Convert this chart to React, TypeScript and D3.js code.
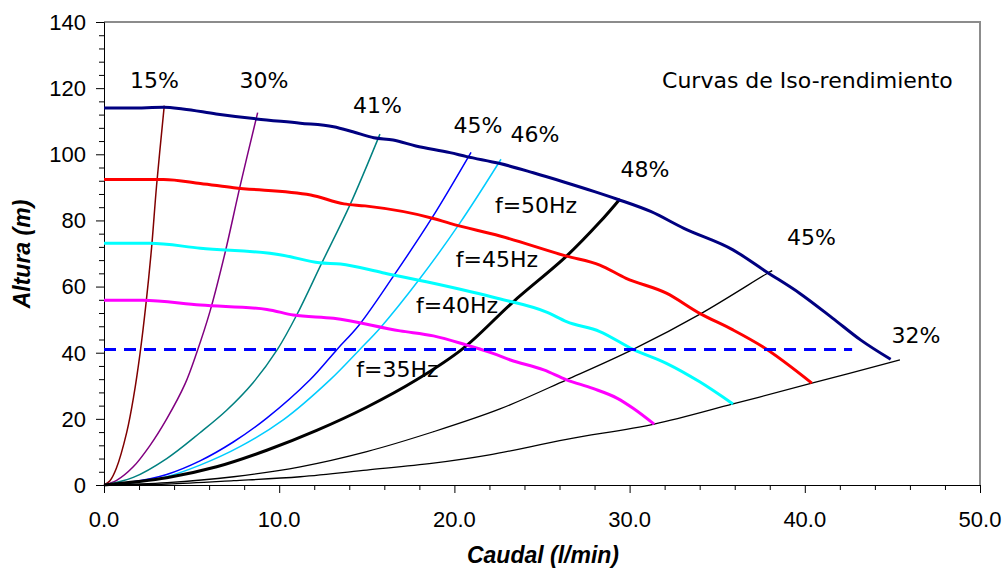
import React, {useRef, useEffect} from 'react';
import * as d3 from 'd3';

type Pt = [number, number];

// H-Q curves of the pump at each frequency (Caudal l/min, Altura m)
const curve50Hz: Pt[] = [[0, 114.0], [1.5, 114.0], [3.4, 114.2], [4.5, 113.7], [6.4, 112.2], [8.7, 110.7], [11.2, 109.4], [13.1, 108.3], [14.2, 106.8], [15.4, 105.0], [16.5, 104.3], [17.8, 102.5], [19.75, 100.5], [20.7, 99.3], [22.6, 97.2], [24.5, 94.4], [26.2, 91.7], [28.0, 88.7], [29.3, 86.4], [31.2, 82.7], [33.1, 77.6], [35.9, 71.1], [37.8, 64.5], [39.7, 58.0], [41.6, 50.4], [43.2, 43.8], [44.9, 38.0]];
const curve45Hz: Pt[] = [[0, 92.4], [3.4, 92.4], [5.5, 91.2], [7.4, 89.9], [11.8, 87.7], [13.7, 85.0], [14.9, 84.4], [18.8, 80.6], [19.75, 79.1], [22.6, 75.3], [26.4, 69.2], [28.3, 66.5], [29.8, 62.5], [32.1, 58.0], [34.0, 51.9], [35.9, 46.9], [37.6, 41.8], [40.4, 30.8]];
const curve40Hz: Pt[] = [[0, 73.1], [2.6, 73.1], [5.5, 71.6], [10.2, 69.5], [12.3, 67.2], [13.5, 66.8], [15.9, 64.2], [18.8, 61.0], [22.5, 56.4], [25.3, 52.2], [26.4, 49.4], [28.3, 46.4], [30.2, 41.0], [32.1, 36.8], [34.0, 31.2], [35.9, 24.5]];
const curve35Hz: Pt[] = [[0, 55.9], [2.2, 55.9], [5.5, 54.4], [9.3, 53.1], [10.8, 51.4], [13.1, 50.4], [16.9, 46.6], [18.8, 45.1], [20.7, 42.3], [22.2, 39.8], [23.2, 37.8], [25.1, 34.8], [26.4, 31.8], [27.9, 29.2], [29.3, 26.2], [30.2, 23.2], [31.4, 18.4]];

// iso-efficiency curves
const iso15: Pt[] = [[0, 0], [0.34, 1.3], [0.7, 5.0], [1.3, 16.0], [1.7, 27.0], [2.05, 39.5], [2.4, 55.0], [2.72, 72.0], [3.0, 90.5], [3.44, 114.7]];
const iso30: Pt[] = [[0, 0], [0.72, 1.4], [1.67, 5.5], [2.63, 12.0], [3.58, 20.0], [4.62, 30.5], [5.29, 40.0], [6.05, 52.5], [6.9, 70.0], [7.76, 90.2], [8.77, 112.6]];
const iso41: Pt[] = [[0, 0], [1.67, 2.3], [3.58, 8.0], [5.48, 15.8], [7.0, 22.6], [8.52, 31.0], [9.9, 41.0], [11.0, 51.4], [12.42, 67.0], [14.04, 84.7], [15.75, 106.1]];
const iso45: Pt[] = [[0, 0], [1.5, 0.8], [3.58, 3.2], [5.48, 7.3], [7.38, 13.0], [9.29, 20.2], [11.76, 31.8], [13.3, 41.0], [14.55, 48.3], [16.5, 63.0], [18.7, 80.6], [20.95, 100.6]];
const iso46: Pt[] = [[0, 0], [1.5, 0.6], [3.58, 2.5], [5.48, 6.0], [7.76, 11.6], [10.23, 19.7], [12.9, 31.8], [14.6, 41.0], [15.75, 47.4], [18.0, 62.2], [20.3, 79.1], [22.66, 98.5]];
const iso48: Pt[] = [[0, 0], [3.58, 2.2], [6.43, 5.5], [9.29, 10.5], [12.14, 16.5], [14.99, 23.5], [17.84, 31.8], [20.5, 41.3], [23.36, 55.4], [26.4, 69.2], [28.3, 79.5], [29.45, 86.5]];
const iso45b: Pt[] = [[0, 0], [3.6, 0.7], [7.4, 2.5], [11.2, 5.5], [15.0, 10.1], [18.8, 16.1], [22.6, 23.0], [26.4, 31.8], [30.2, 41.0], [34.1, 51.9], [37.8, 63.8], [38.14, 64.8]];
const iso32: Pt[] = [[0, 0], [3.6, 0.3], [7.4, 1.3], [11.2, 2.5], [15.0, 4.5], [18.8, 6.6], [22.0, 9.1], [26.4, 13.8], [31.4, 18.4], [35.9, 24.5], [40.4, 30.8], [45.43, 37.8]];

// working height
const refLine: Pt[] = [[0, 41], [42.7, 41]];

// labels: text, x, y (data units, y = baseline)
const labelText = ['15%', '30%', '41%', '45%', '46%', '48%', '45%', '32%', 'f=50Hz', 'f=45Hz', 'f=40Hz', 'f=35Hz', 'Curvas de Iso-rendimiento'];
const labelQ = [2.88, 9.13, 15.61, 21.35, 24.6, 30.88, 40.38, 46.35, 24.66, 22.43, 20.15, 16.75, 40.15];
const labelH = [120.0, 120.0, 112.5, 106.5, 103.7, 93.2, 72.6, 42.9, 82.25, 66.0, 52.0, 32.66, 120.0];

const xTicks = [0, 10, 20, 30, 40, 50];
const yTicks = [0, 20, 40, 60, 80, 100, 120, 140];

function App() {
  const svgRef = useRef<SVGSVGElement>(null);

  useEffect(() => {
    if (svgRef.current === null) return;
    const svg = d3.select(svgRef.current);
    svg.selectAll('*').remove();

    const x = d3.scaleLinear().domain([0, 50]).range([104, 980]);
    const y = d3.scaleLinear().domain([0, 140]).range([485, 22]);
    const line = d3
      .line<Pt>()
      .x(d => x(d[0]))
      .y(d => y(d[1]))
      .curve(d3.curveMonotoneX);
    const smooth = d3
      .line<Pt>()
      .x(d => x(d[0]))
      .y(d => y(d[1]))
      .curve(d3.curveCatmullRom.alpha(0.5));

    // frame (top/right in grey)
    svg.append('path')
      .attr('d', `M${x(0)},${y(140)}H${x(50)}V${y(0)}`)
      .attr('fill', 'none')
      .attr('stroke', '#8c8c8c')
      .attr('stroke-width', 2);

    // axes
    const xAxis = svg.append('g').attr('transform', `translate(0,${y(0)})`);
    xAxis.call(
      d3.axisBottom(x).tickValues(d3.range(0, 51, 2)).tickSize(5).tickFormat(() => '')
    );
    xAxis.call(g => g.selectAll('.tick').filter((d: any) => d % 10 === 0).select('line').attr('y2', 8));
    xAxis.select('.domain').attr('stroke', '#000');

    const yAxis = svg.append('g').attr('transform', `translate(${x(0)},0)`);
    yAxis.call(
      d3.axisLeft(y).tickValues(d3.range(0, 141, 4)).tickSize(5).tickFormat(() => '')
    );
    yAxis.call(g => g.selectAll('.tick').filter((d: any) => d % 20 === 0).select('line').attr('x2', -8));

    svg.append('g')
      .selectAll('text')
      .data(xTicks)
      .join('text')
      .attr('x', d => x(d))
      .attr('y', 527)
      .attr('text-anchor', 'middle')
      .attr('font-family', 'Liberation Sans, Arial, sans-serif')
      .attr('font-size', 22)
      .text(d => d.toFixed(1));

    svg.append('g')
      .selectAll('text')
      .data(yTicks)
      .join('text')
      .attr('x', 86)
      .attr('y', d => y(d))
      .attr('dy', '0.36em')
      .attr('text-anchor', 'end')
      .attr('font-family', 'Liberation Sans, Arial, sans-serif')
      .attr('font-size', 22)
      .text(d => d);

    // axis titles
    svg.append('text')
      .attr('x', 543)
      .attr('y', 563)
      .attr('text-anchor', 'middle')
      .attr('font-family', 'Liberation Sans, Arial, sans-serif')
      .attr('font-size', 23)
      .attr('font-weight', 'bold')
      .attr('font-style', 'italic')
      .text('Caudal (l/min)');
    svg.append('text')
      .attr('transform', 'translate(30,254) rotate(-90)')
      .attr('text-anchor', 'middle')
      .attr('font-family', 'Liberation Sans, Arial, sans-serif')
      .attr('font-size', 23)
      .attr('font-weight', 'bold')
      .attr('font-style', 'italic')
      .text('Altura (m)');

    // iso-efficiency curves
    const isoCurves: [Pt[], string, number][] = [
      [iso15, '#800000', 1.5],
      [iso30, '#800080', 1.5],
      [iso41, '#008080', 1.5],
      [iso45, '#0000ff', 1.5],
      [iso46, '#00ccff', 1.5],
      [iso45b, '#000000', 1.3],
      [iso32, '#000000', 1.3],
      [iso48, '#000000', 3],
    ];
    isoCurves.forEach(([data, color, w]) => {
      svg.append('path')
        .datum(data)
        .attr('d', smooth)
        .attr('fill', 'none')
        .attr('stroke', color)
        .attr('stroke-width', w);
    });

    // pump curves
    const pumpCurves: [Pt[], string][] = [
      [curve50Hz, '#000080'],
      [curve45Hz, '#ff0000'],
      [curve40Hz, '#00ffff'],
      [curve35Hz, '#ff00ff'],
    ];
    pumpCurves.forEach(([data, color]) => {
      svg.append('path')
        .datum(data)
        .attr('d', line)
        .attr('fill', 'none')
        .attr('stroke', color)
        .attr('stroke-width', 3)
        .attr('stroke-linejoin', 'round');
    });

    svg.append('path')
      .datum(refLine)
      .attr('d', d3.line<Pt>().x(d => x(d[0])).y(d => y(d[1])))
      .attr('fill', 'none')
      .attr('stroke', '#0000ff')
      .attr('stroke-width', 3)
      .attr('stroke-dasharray', '12,8');

    // annotations
    svg.append('g')
      .selectAll('text')
      .data(labelText)
      .join('text')
      .attr('x', (d, i) => x(labelQ[i]))
      .attr('y', (d, i) => y(labelH[i]))
      .attr('text-anchor', 'middle')
      .attr('font-family', 'DejaVu Sans, sans-serif')
      .attr('font-size', 22)
      .attr('fill', '#000')
      .text(d => d);
  }, []);

  return (
    <div style={{position: 'absolute', left: 0, top: 0, background: '#fff'}}>
      <svg ref={svgRef} width={1005} height={569} />
    </div>
  );
}

export default App;
